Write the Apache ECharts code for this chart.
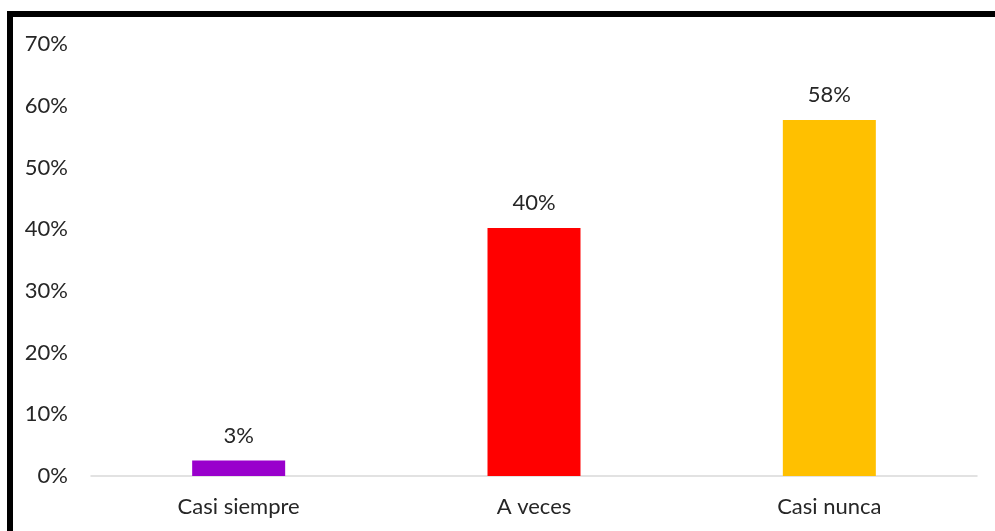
<!DOCTYPE html>
<html>
<head>
<meta charset="utf-8">
<script src="https://cdn.jsdelivr.net/npm/echarts@6/dist/echarts.min.js"></script>
<style>
  html, body { margin: 0; padding: 0; background: #fff; }
  #chart { width: 995px; height: 531px; }
</style>
</head>
<body>
<div id="chart"></div>
<script>
// Response frequencies (share of respondents)
const categories = ['Casi siempre', 'A veces', 'Casi nunca'];
const shares = [0.025, 0.402, 0.577];
const barColors = ['#9900CC', '#FF0000', '#FFC000'];
const axisMax = 0.7;
const axisStep = 0.1;

const FONT = 'Lato, "Open Sans", sans-serif';
const TEXT = '#262626';
// whole-percent label, rounding halves up
const pct = v => Math.round(Math.round(v * 1000) / 10) + '%';

const chart = echarts.init(document.getElementById('chart'), null, { renderer: 'canvas' });

chart.setOption({
  animation: false,
  backgroundColor: '#ffffff',
  grid: { left: 91, right: 18, top: 44, bottom: 55, containLabel: false },
  xAxis: {
    type: 'category',
    data: categories,
    axisLine: { show: true, lineStyle: { color: '#D9D9D9', width: 1.5 } },
    axisTick: { show: false },
    axisLabel: { color: TEXT, fontFamily: FONT, fontSize: 22, margin: 20 }
  },
  yAxis: {
    type: 'value',
    min: 0,
    max: axisMax,
    interval: axisStep,
    axisLine: { show: false },
    axisTick: { show: false },
    splitLine: { show: false },
    axisLabel: { color: TEXT, fontFamily: FONT, fontSize: 22, margin: 23, formatter: pct }
  },
  series: [{
    type: 'bar',
    barWidth: 93,
    data: shares.map((v, i) => ({ value: v, itemStyle: { color: barColors[i] } })),
    label: {
      show: true,
      position: 'top',
      distance: 14,
      color: TEXT,
      fontFamily: FONT,
      fontSize: 22,
      formatter: p => pct(p.value)
    }
  }],
  graphic: [
    { type: 'rect', shape: { x: 7, y: 11, width: 988, height: 6 }, style: { fill: '#000' } },
    { type: 'rect', shape: { x: 7, y: 11, width: 6, height: 520 }, style: { fill: '#000' } }
  ]
});
</script>
</body>
</html>
